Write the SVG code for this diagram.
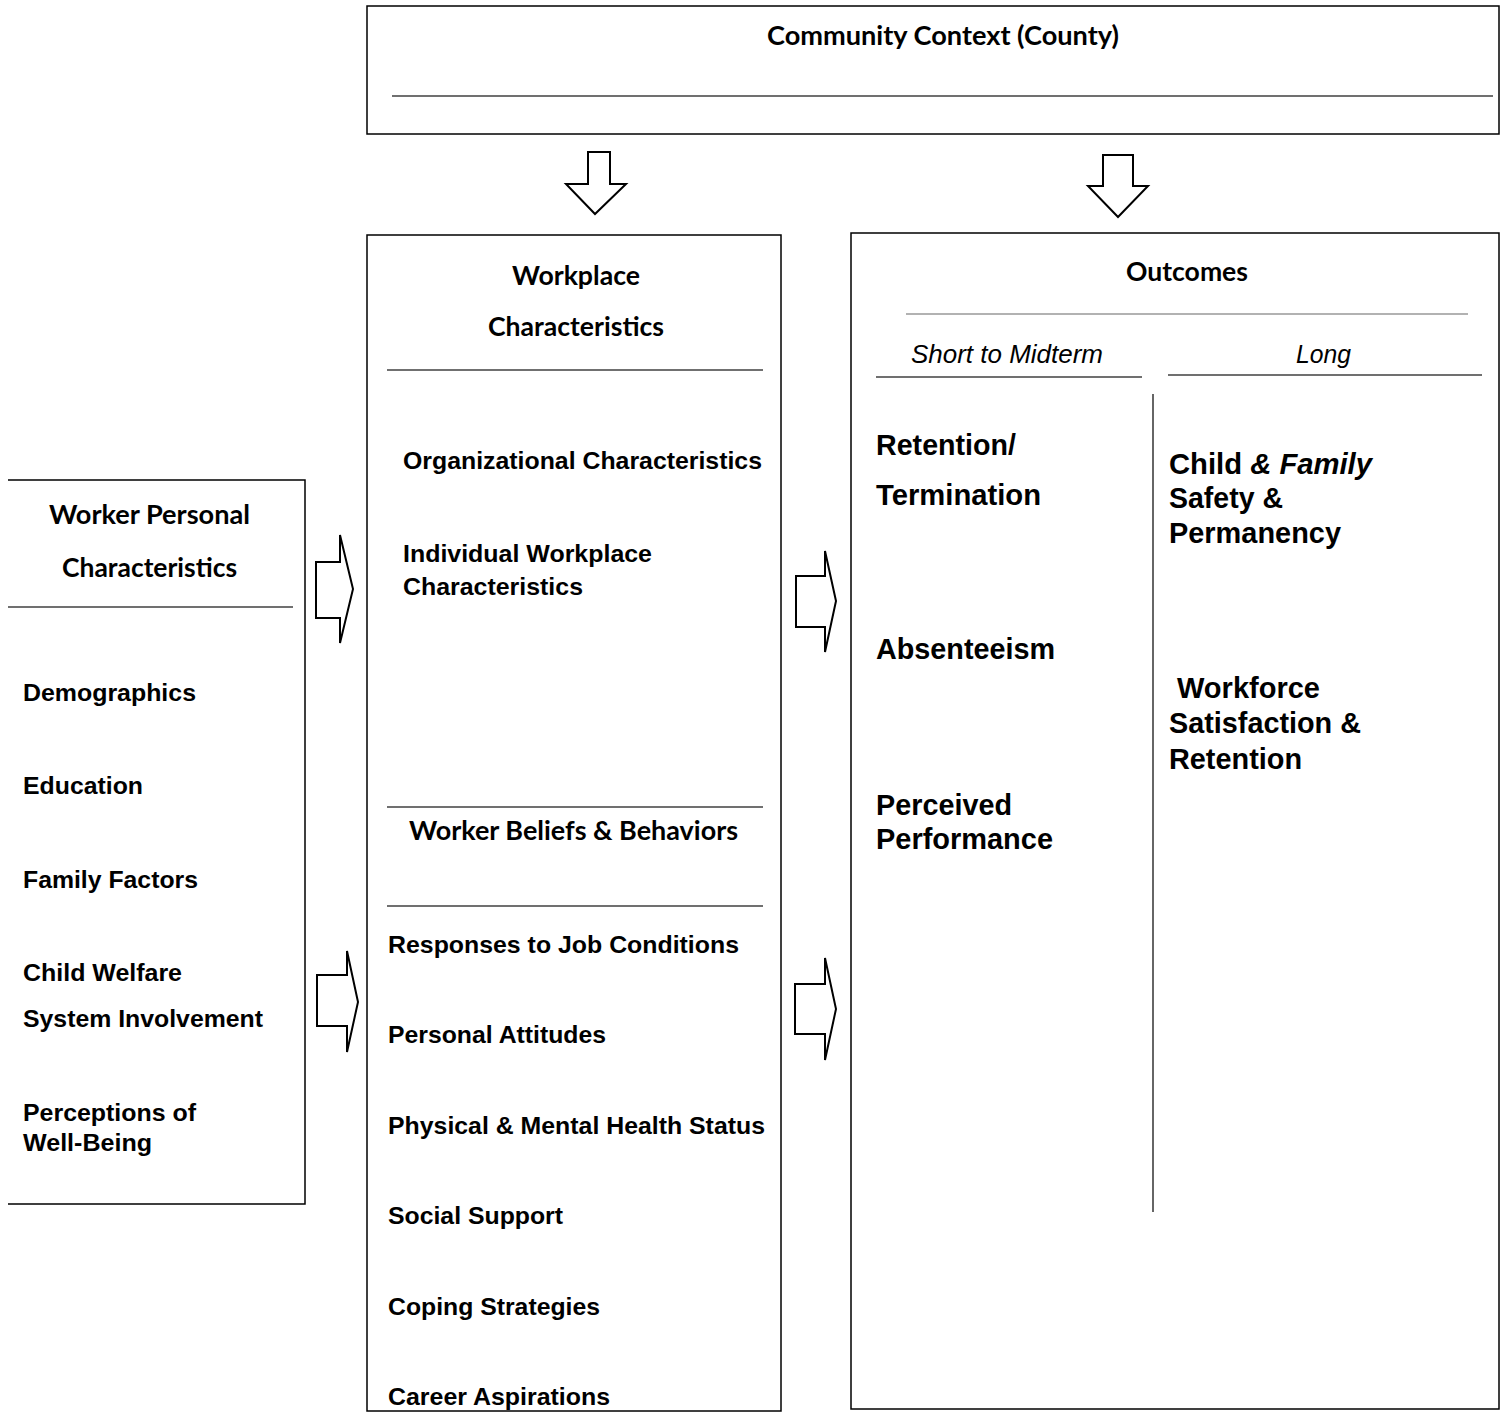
<svg xmlns="http://www.w3.org/2000/svg" width="1505" height="1412" viewBox="0 0 1505 1412">
<style>
.box{fill:#fff;stroke:#000;stroke-width:1.5}
.sep{stroke:#404040;stroke-width:1.5;fill:none}
.sep2{stroke:#999;stroke-width:1.5;fill:none}
.vsep{stroke:#666;stroke-width:2;fill:none}
.arrow{fill:#fff;stroke:#000;stroke-width:2;stroke-linejoin:miter}
.h{font-family:Lato,"Open Sans","Liberation Sans",sans-serif;font-weight:bold;font-size:26px;fill:#000}
.t{font-family:"Liberation Sans",Arial,sans-serif;font-weight:bold;font-size:24px;fill:#000}
.o{font-family:"Liberation Sans",Arial,sans-serif;font-weight:bold;font-size:30px;fill:#000}
.i{font-family:"Liberation Sans",Arial,sans-serif;font-style:italic;font-size:25px;fill:#000}
</style>
<rect width="1505" height="1412" fill="#fff"/>

<g id="community">
<rect class="box" x="367" y="6" width="1132" height="128"/>
<text class="h" x="767" y="45" textLength="352" lengthAdjust="spacingAndGlyphs">Community Context (County)</text>
<line class="sep" x1="392" y1="96" x2="1493" y2="96"/>
</g>

<g id="worker-personal">
<path class="box" d="M8,480 H305 V1204 H8" fill="#fff"/>
<text class="h" x="49" y="524" textLength="201" lengthAdjust="spacingAndGlyphs">Worker Personal</text>
<text class="h" x="62" y="577" textLength="175" lengthAdjust="spacingAndGlyphs">Characteristics</text>
<line class="sep" x1="8" y1="607" x2="293" y2="607"/>
<text class="t" x="23" y="701" textLength="173" lengthAdjust="spacingAndGlyphs">Demographics</text>
<text class="t" x="23" y="794" textLength="120" lengthAdjust="spacingAndGlyphs">Education</text>
<text class="t" x="23" y="888" textLength="175" lengthAdjust="spacingAndGlyphs">Family Factors</text>
<text class="t" x="23" y="981" textLength="159" lengthAdjust="spacingAndGlyphs">Child Welfare</text>
<text class="t" x="23" y="1027" textLength="240" lengthAdjust="spacingAndGlyphs">System Involvement</text>
<text class="t" x="23" y="1121" textLength="173" lengthAdjust="spacingAndGlyphs">Perceptions of</text>
<text class="t" x="23" y="1151" textLength="129" lengthAdjust="spacingAndGlyphs">Well-Being</text>
</g>

<g id="workplace">
<rect class="box" x="367" y="235" width="414" height="1176"/>
<text class="h" x="512" y="285" textLength="128" lengthAdjust="spacingAndGlyphs">Workplace</text>
<text class="h" x="488" y="336" textLength="176" lengthAdjust="spacingAndGlyphs">Characteristics</text>
<line class="sep" x1="387" y1="370" x2="763" y2="370"/>
<text class="t" x="403" y="469" textLength="359" lengthAdjust="spacingAndGlyphs">Organizational Characteristics</text>
<text class="t" x="403" y="562" textLength="249" lengthAdjust="spacingAndGlyphs">Individual Workplace</text>
<text class="t" x="403" y="595" textLength="180" lengthAdjust="spacingAndGlyphs">Characteristics</text>
<line class="sep" x1="387" y1="807" x2="763" y2="807"/>
<text class="h" x="409" y="840" textLength="329" lengthAdjust="spacingAndGlyphs">Worker Beliefs &amp; Behaviors</text>
<line class="sep" x1="387" y1="906" x2="763" y2="906"/>
<text class="t" x="388" y="953" textLength="351" lengthAdjust="spacingAndGlyphs">Responses to Job Conditions</text>
<text class="t" x="388" y="1043" textLength="218" lengthAdjust="spacingAndGlyphs">Personal Attitudes</text>
<text class="t" x="388" y="1134" textLength="377" lengthAdjust="spacingAndGlyphs">Physical &amp; Mental Health Status</text>
<text class="t" x="388" y="1224" textLength="175" lengthAdjust="spacingAndGlyphs">Social Support</text>
<text class="t" x="388" y="1315" textLength="212" lengthAdjust="spacingAndGlyphs">Coping Strategies</text>
<text class="t" x="388" y="1405" textLength="222" lengthAdjust="spacingAndGlyphs">Career Aspirations</text>
</g>

<g id="outcomes">
<rect class="box" x="851" y="233" width="648" height="1176"/>
<text class="h" x="1126" y="281" textLength="122" lengthAdjust="spacingAndGlyphs">Outcomes</text>
<line class="sep2" x1="906" y1="314" x2="1468" y2="314"/>
<text class="i" x="911" y="363" textLength="192" lengthAdjust="spacingAndGlyphs">Short to Midterm</text>
<text class="i" x="1296" y="363" textLength="55" lengthAdjust="spacingAndGlyphs">Long</text>
<line class="sep" x1="876" y1="377" x2="1142" y2="377"/>
<line class="sep" x1="1168" y1="375" x2="1482" y2="375"/>
<line class="vsep" x1="1153" y1="394" x2="1153" y2="1212"/>
<text class="o" x="876" y="455" textLength="140" lengthAdjust="spacingAndGlyphs">Retention/</text>
<text class="o" x="876" y="505" textLength="165" lengthAdjust="spacingAndGlyphs">Termination</text>
<text class="o" x="876" y="659" textLength="179" lengthAdjust="spacingAndGlyphs">Absenteeism</text>
<text class="o" x="876" y="815" textLength="136" lengthAdjust="spacingAndGlyphs">Perceived</text>
<text class="o" x="876" y="849" textLength="177" lengthAdjust="spacingAndGlyphs">Performance</text>
<text class="o" x="1169" y="474" textLength="203" lengthAdjust="spacingAndGlyphs">Child <tspan font-style="italic">&amp; Family</tspan></text>
<text class="o" x="1169" y="508" textLength="114" lengthAdjust="spacingAndGlyphs">Safety &amp;</text>
<text class="o" x="1169" y="543" textLength="172" lengthAdjust="spacingAndGlyphs">Permanency</text>
<text class="o" x="1177" y="698" textLength="143" lengthAdjust="spacingAndGlyphs">Workforce</text>
<text class="o" x="1169" y="733" textLength="192" lengthAdjust="spacingAndGlyphs">Satisfaction &amp;</text>
<text class="o" x="1169" y="769" textLength="133" lengthAdjust="spacingAndGlyphs">Retention</text>
</g>

<g id="connectors">
<polygon class="arrow" points="588,152 610,152 610,184 626,184 595,214 566,184 588,184"/>
<polygon class="arrow" points="1103,155 1133,155 1133,186 1148,186 1118,217 1088,186 1103,186"/>
<polygon class="arrow" points="316,562 340,562 340,535 353,589 340,643 340,618 316,618"/>
<polygon class="arrow" points="796,576 825,576 825,551 836,601 825,652 825,627 796,627"/>
<polygon class="arrow" points="317,975 347,975 347,951 358,1002 347,1052 347,1026 317,1026"/>
<polygon class="arrow" points="795,984 825,984 825,958 836,1009 825,1060 825,1034 795,1034"/>
</g>
</svg>
